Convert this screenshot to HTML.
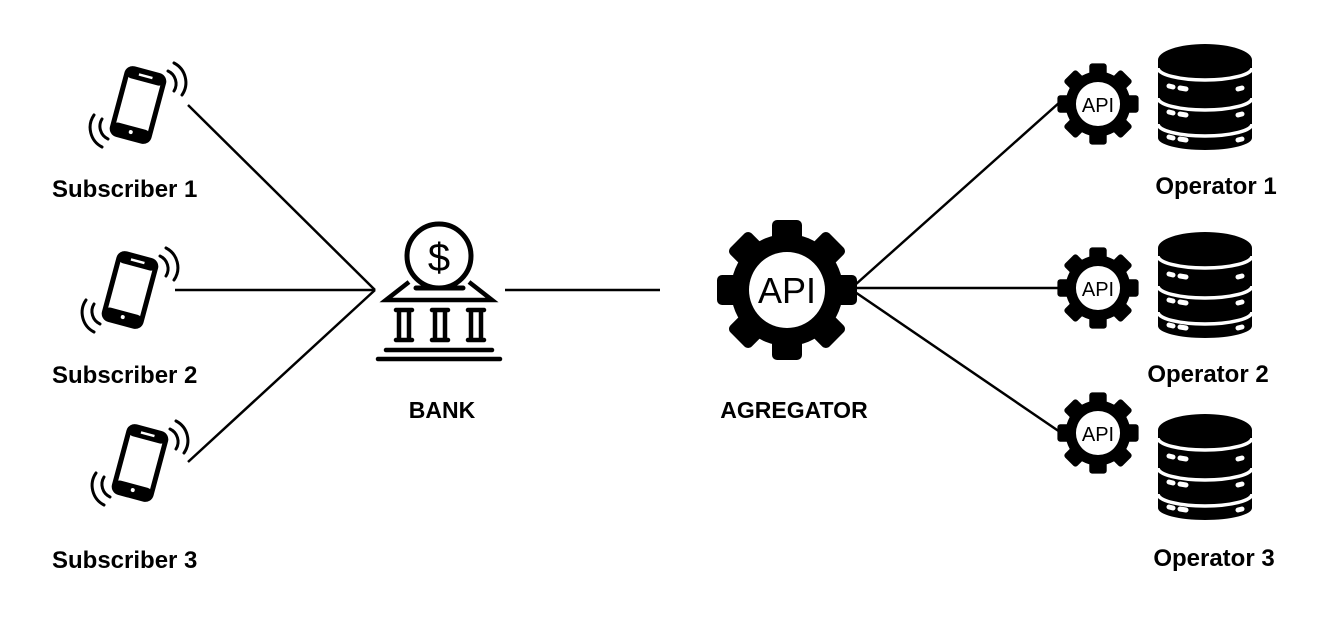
<!DOCTYPE html>
<html><head><meta charset="utf-8"><style>
body{margin:0;background:#fff;}
svg{display:block;}
text{font-family:"Liberation Sans",Arial,sans-serif;font-weight:bold;fill:#000;}
</style></head><body>
<svg width="1328" height="622" viewBox="0 0 1328 622" xmlns="http://www.w3.org/2000/svg">
<defs>
<g id="gear">
  <circle r="56" fill="#000"/>
  <g fill="#000">
    <rect x="-15" y="-70" width="30" height="30" rx="5"/>
    <rect x="-15" y="-70" width="30" height="30" rx="5" transform="rotate(45)"/>
    <rect x="-15" y="-70" width="30" height="30" rx="5" transform="rotate(90)"/>
    <rect x="-15" y="-70" width="30" height="30" rx="5" transform="rotate(135)"/>
    <rect x="-15" y="-70" width="30" height="30" rx="5" transform="rotate(180)"/>
    <rect x="-15" y="-70" width="30" height="30" rx="5" transform="rotate(225)"/>
    <rect x="-15" y="-70" width="30" height="30" rx="5" transform="rotate(270)"/>
    <rect x="-15" y="-70" width="30" height="30" rx="5" transform="rotate(315)"/>
  </g>
  <circle r="38" fill="#fff"/>
</g>
<g id="phone">
  <g transform="rotate(15)">
    <rect x="-19" y="-34" width="38" height="68" rx="6" fill="none" stroke="#000" stroke-width="5"/>
    <rect x="-19" y="-34" width="38" height="10" rx="5" fill="#000"/>
    <rect x="-19" y="22" width="38" height="12" rx="5" fill="#000"/>
    <rect x="-7" y="-31" width="14" height="2.5" fill="#fff"/>
    <circle cx="0" cy="28" r="2" fill="#fff"/>
  </g>
  <g fill="none" stroke="#000" stroke-width="3" stroke-linecap="round">
    <path d="M30 -34 A14 14 0 0 1 36 -14"/>
    <path d="M36 -42 A22 22 0 0 1 44 -10"/>
    <path d="M-30 34 A14 14 0 0 1 -36 14"/>
    <path d="M-36 42 A22 22 0 0 1 -44 10"/>
  </g>
</g>
<g id="db">
  <path d="M0 18 A47 16 0 0 1 94 18 L94 96 A47 12 0 0 1 0 96 Z" fill="#000"/>
  <g fill="none" stroke="#fff" stroke-width="3.5">
    <path d="M0 26 A47 12 0 0 0 94 26"/>
    <path d="M0 56 A47 12 0 0 0 94 56"/>
    <path d="M0 82 A47 12 0 0 0 94 82"/>
  </g>
  <g stroke="#fff" stroke-width="5" stroke-linecap="round">
    <line x1="11" y1="44" x2="15" y2="45"/><line x1="22" y1="46" x2="28" y2="47"/><line x1="84" y1="46" x2="80" y2="47"/>
    <line x1="11" y1="70" x2="15" y2="71"/><line x1="22" y1="72" x2="28" y2="73"/><line x1="84" y1="72" x2="80" y2="73"/>
    <line x1="11" y1="95" x2="15" y2="96"/><line x1="22" y1="97" x2="28" y2="98"/><line x1="84" y1="97" x2="80" y2="98"/>
  </g>
</g>
</defs>

<g stroke="#000" stroke-width="2.5" fill="none">
  <line x1="188" y1="105" x2="375" y2="290"/>
  <line x1="175" y1="290" x2="375" y2="290"/>
  <line x1="188" y1="462" x2="375" y2="290"/>
  <line x1="505" y1="290" x2="660" y2="290"/>
  <line x1="855" y1="285" x2="1060" y2="102"/>
  <line x1="855" y1="288" x2="1060" y2="288"/>
  <line x1="855" y1="292" x2="1060" y2="432"/>
</g>

<use href="#phone" transform="translate(138,105)"/>
<use href="#phone" transform="translate(130,290)"/>
<use href="#phone" transform="translate(140,463)"/>

<g>
  <circle cx="439" cy="256" r="32" fill="none" stroke="#000" stroke-width="5"/>
  <text x="439" y="271" font-size="40" text-anchor="middle" style="font-weight:normal">$</text>
  <line x1="416" y1="288" x2="463" y2="288" stroke="#000" stroke-width="5" stroke-linecap="round"/>
  <path d="M409 282 L386 300 L492 300 L469 282" fill="none" stroke="#000" stroke-width="4.5"/>
  <g stroke="#000" stroke-width="4.5" fill="none" stroke-linecap="round">
    <path d="M396 310 H412 M399 310 V340 M409 310 V340 M396 340 H412"/>
    <path d="M432 310 H448 M435 310 V340 M445 310 V340 M432 340 H448"/>
    <path d="M468 310 H484 M471 310 V340 M481 310 V340 M468 340 H484"/>
    <line x1="386" y1="350" x2="492" y2="350"/>
    <line x1="378" y1="359" x2="500" y2="359"/>
  </g>
</g>

<use href="#gear" transform="translate(787,290)"/>
<text x="787" y="303" font-size="36" text-anchor="middle" style="font-weight:normal">API</text>

<use href="#gear" transform="translate(1098,104) scale(0.58)"/>
<text x="1098" y="112" font-size="20" text-anchor="middle" style="font-weight:normal">API</text>
<use href="#gear" transform="translate(1098,288) scale(0.58)"/>
<text x="1098" y="296" font-size="20" text-anchor="middle" style="font-weight:normal">API</text>
<use href="#gear" transform="translate(1098,433) scale(0.58)"/>
<text x="1098" y="441" font-size="20" text-anchor="middle" style="font-weight:normal">API</text>

<use href="#db" transform="translate(1158,42)"/>
<use href="#db" transform="translate(1158,230)"/>
<use href="#db" transform="translate(1158,412)"/>

<g font-size="24">
  <text x="52" y="197">Subscriber 1</text>
  <text x="52" y="383">Subscriber 2</text>
  <text x="52" y="568">Subscriber 3</text>
  <text x="442" y="418" text-anchor="middle" font-size="23">BANK</text>
  <text x="794" y="418" text-anchor="middle" font-size="23">AGREGATOR</text>
  <text x="1216" y="194" text-anchor="middle">Operator 1</text>
  <text x="1208" y="382" text-anchor="middle">Operator 2</text>
  <text x="1214" y="566" text-anchor="middle">Operator 3</text>
</g>
</svg>
</body></html>
